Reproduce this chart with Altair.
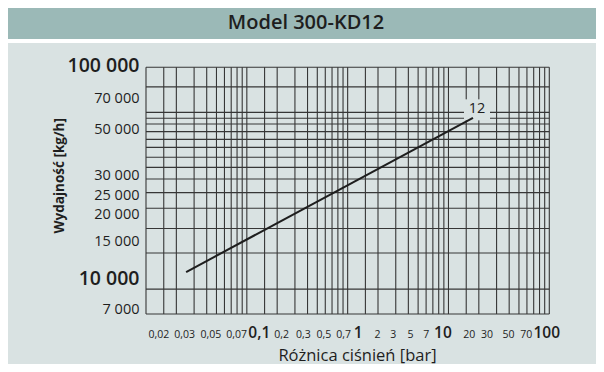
import altair as alt
import pandas as pd

# ---- data ----
curve_dp = [0.025, 17.5]          # pressure difference [bar]
curve_q = [11000, 58000]          # capacity [kg/h]
curve_name = "12"

x_grid = [0.01, 0.015, 0.02, 0.03, 0.04, 0.05, 0.06, 0.07, 0.08, 0.09,
          0.1, 0.15, 0.2, 0.3, 0.4, 0.5, 0.6, 0.7, 0.8, 0.9,
          1, 1.5, 2, 3, 4, 5, 6, 7, 8, 9,
          10, 15, 20, 30, 40, 50, 60, 70, 80, 90, 100]
y_grid = [100000, 81000, 61500, 57700, 54300, 50000, 46000, 42200, 37900,
          34000, 30000, 25900, 21900, 17600, 13500, 9150, 7000]

x_labels = [0.02, 0.03, 0.05, 0.07, 0.1, 0.2, 0.3, 0.5, 0.7, 1,
            2, 3, 5, 7, 10, 20, 30, 50, 70, 100]
y_labels = [100000, 70000, 50000, 30000, 25000, 20000, 15000, 10000, 7000]

title_text = "Model 300-KD12"
x_title = "Różnica ciśnień [bar]"
y_title = "Wydajność [kg/h]"

# ---- styling ----
FONT = "Open Sans"
BG = "#d9e2e2"
BAND = "#9bb9b7"
INK = "#1e1e1e"
GRID = "#363636"

W, H = 403.3, 246.7
PL, PT = 138, 59.3
TOTAL_W, TOTAL_H = 588, 356

# label nudges along the axis, as typeset in the reference
x_label_nudge = {0.02: -18, 0.03: -10, 0.05: -6, 0.07: 5, 0.1: 12, 0.2: 4,
                 0.3: 8, 0.5: 6, 0.7: 11, 1: 10, 2: -1, 3: -3, 5: -8, 7: -7,
                 10: -6, 20: -10, 30: -10, 50: -11, 70: -8, 100: -3}
y_label_nudge = {30000: -3.5, 25000: -0.5, 7000: -5}

xs = alt.Scale(type="log", domain=[0.01, 100], nice=False)
ys = alt.Scale(type="log", domain=[7000, 100000], nice=False)

curve = pd.DataFrame({"dp": curve_dp, "q": curve_q})
lab = pd.DataFrame({"dp": [curve_dp[-1]], "q": [curve_q[-1]], "t": [curve_name]})
gx = pd.DataFrame({"dp": x_grid})
gy = pd.DataFrame({"q": y_grid})
one = alt.Data(values=[{"a": 1}])

x_big = "datum.value == 0.1 || datum.value == 1 || datum.value == 10 || datum.value == 100"
y_big = "datum.value == 100000 || datum.value == 10000"

x_offset_cond = [{"test": f"abs(datum.value - {v}) < {v} * 1e-6", "value": o}
                 for v, o in x_label_nudge.items()]
y_offset_cond = [{"test": f"datum.value == {v}", "value": o}
                 for v, o in y_label_nudge.items()]

xaxis = alt.Axis(
    values=x_labels, grid=False, domain=False, ticks=False, tickSize=0,
    labelExpr="replace(toString(datum.value), '.', ',')",
    labelFont=FONT, labelColor=INK,
    labelFontSize={"condition": {"test": x_big, "value": 15.5}, "value": 10.5},
    labelFontWeight={"condition": {"test": x_big, "value": 600}, "value": 400},
    labelOffset={"condition": x_offset_cond, "value": 0},
    labelBaseline="alphabetic", labelPadding=23, labelOverlap=False,
    labelFlush=False, labelBound=False,
    title=x_title, titleFont=FONT, titleFontSize=16.5, titleFontWeight=500,
    titleColor=INK, titleX=211, titleY=41, titleBaseline="middle",
    titleAnchor="middle")
yaxis = alt.Axis(
    values=y_labels, grid=False, domain=False, ticks=False, tickSize=0,
    labelExpr="replace(format(datum.value, ','), ',', ' ')",
    labelFont=FONT, labelColor=INK,
    labelFontSize={"condition": {"test": y_big, "value": 19.5}, "value": 14.5},
    labelFontWeight={"condition": {"test": y_big, "value": 600}, "value": 500},
    labelOffset={"condition": y_offset_cond, "value": -2},
    labelBaseline="middle", labelPadding=7,
    labelOverlap=False, labelFlush=False, labelBound=False,
    title=y_title, titleFont=FONT, titleFontSize=13.5, titleFontWeight=700,
    titleColor=INK, titleX=-87, titleY=108, titleAngle=270,
    titleBaseline="middle", titleAlign="center")

X = alt.X("dp:Q", scale=xs, axis=xaxis, title=x_title)
Y = alt.Y("q:Q", scale=ys, axis=yaxis, title=y_title)

band = alt.Chart(one).mark_rect(color=BAND).encode(
    x=alt.value(-PL), x2=alt.value(TOTAL_W - PL),
    y=alt.value(-PT), y2=alt.value(-28.3))
gap = alt.Chart(one).mark_rect(color="white").encode(
    x=alt.value(-PL), x2=alt.value(TOTAL_W - PL),
    y=alt.value(-28.3), y2=alt.value(-24.3))
title = alt.Chart(one).mark_text(
    text=title_text, font=FONT, fontSize=20, fontWeight=600, color=INK,
    align="center", baseline="middle").encode(
    x=alt.value(160), y=alt.value(-44.5))

vrules = alt.Chart(gx).mark_rule(color=GRID, strokeWidth=1.1).encode(x=X)
hrules = alt.Chart(gy).mark_rule(color=GRID, strokeWidth=1.1).encode(y=Y)

patch = alt.Chart(lab).mark_rect(color=BG, width=26, height=21,
                                 xOffset=4, yOffset=-8).encode(x=X, y=Y)

line = alt.Chart(curve).mark_line(color=INK, strokeWidth=2).encode(x=X, y=Y)

label = alt.Chart(lab).mark_text(
    font=FONT, fontSize=14.5, fontWeight=500, color=INK, dx=4, dy=-8.5,
    align="center", baseline="middle").encode(x=X, y=Y, text="t:N")

chart = alt.layer(band, gap, title, vrules, hrules, patch, line, label).properties(
    width=W, height=H,
    autosize=alt.AutoSizeParams(type="none"),
    padding={"left": PL, "top": PT, "right": TOTAL_W - PL - W,
             "bottom": TOTAL_H - PT - H},
    background=BG,
).configure_view(stroke=None)

chart.save("out.html", embed_options={"renderer": "svg", "actions": False})
